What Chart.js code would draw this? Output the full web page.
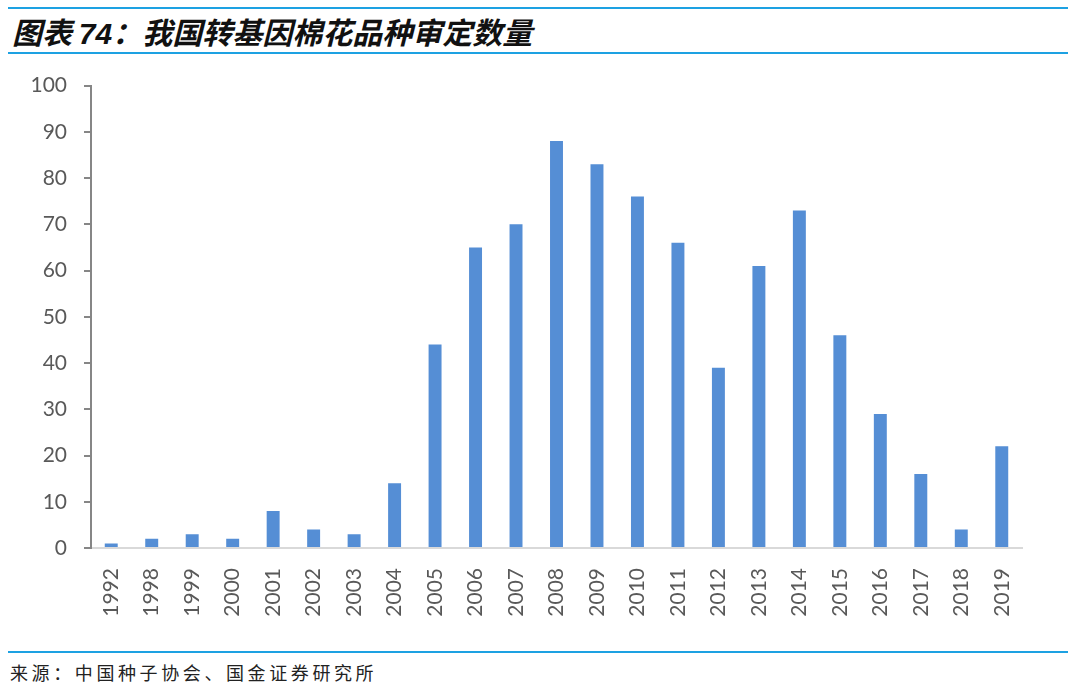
<!DOCTYPE html>
<html>
<head>
<meta charset="utf-8">
<script src="https://cdn.jsdelivr.net/npm/chart.js@4.4.1/dist/chart.umd.min.js"></script>
<style>
  html, body { margin: 0; padding: 0; background: #fff; }
  body { width: 1080px; height: 692px; position: relative; overflow: hidden; }
  .line { position: absolute; left: 8px; width: 1060px; height: 2px; background: #1DA1E2; }
  #title { position: absolute; left: 12px; top: 11px; font-family: "Noto Sans CJK SC", sans-serif; font-weight: bold; font-style: italic; font-size: 30px; line-height: 40px; letter-spacing: 0px; color: #111; white-space: nowrap; }
  #source { position: absolute; left: 10px; top: 660px; font-family: "Noto Sans CJK SC", serif; font-size: 18px; line-height: 24px; letter-spacing: 3.6px; color: #222; white-space: nowrap; }
  #wrap { position: absolute; left: 0; top: 56px; width: 1040px; height: 594px; }
</style>
</head>
<body>
<div class="line" style="top:7px"></div>
<div id="title">图表 <span style="font-family:'Liberation Sans',sans-serif">74</span>：我国转基因棉花品种审定数量</div>
<div class="line" style="top:52px"></div>
<div id="wrap"><canvas id="c"></canvas></div>
<div class="line" style="top:651px"></div>
<div id="source">来源：中国种子协会、国金证券研究所</div>
<script>
const categories = ["1992","1998","1999","2000","2001","2002","2003","2004","2005","2006","2007","2008","2009","2010","2011","2012","2013","2014","2015","2016","2017","2018","2019"];
const approvals = [1,2,3,2,8,4,3,14,44,65,70,88,83,76,66,39,61,73,46,29,16,4,22];
const yTicks = { min: 0, max: 100, step: 10 };

new Chart(document.getElementById('c'), {
  type: 'bar',
  data: {
    labels: categories,
    datasets: [{
      data: approvals,
      backgroundColor: '#558ED5',
      borderWidth: 0,
      categoryPercentage: 1,
      barPercentage: 0.32
    }]
  },
  options: {
    responsive: true,
    maintainAspectRatio: false,
    animation: false,
    layout: { padding: { top: 2, right: 18, left: 0, bottom: 0 } },
    plugins: { legend: { display: false }, tooltip: { enabled: false } },
    scales: {
      x: {
        grid: { display: false },
        border: { display: true, color: '#D9D9D9', width: 2 },
        ticks: {
          color: '#595959', font: { family: 'Lato', size: 21 },
          minRotation: 90, maxRotation: 90, padding: 12, autoSkip: false
        },
        afterFit: (s) => { s.height = 102; }
      },
      y: {
        min: yTicks.min, max: yTicks.max,
        grid: { drawOnChartArea: false, drawTicks: true, tickLength: 7, color: '#868686', lineWidth: 2 },
        border: { display: true, color: '#868686', width: 2 },
        ticks: {
          stepSize: yTicks.step, color: '#595959', font: { family: 'Lato', size: 21 }, padding: 17
        },
        afterFit: (s) => { s.width = 91; }
      }
    }
  }
});
</script>
</body>
</html>
